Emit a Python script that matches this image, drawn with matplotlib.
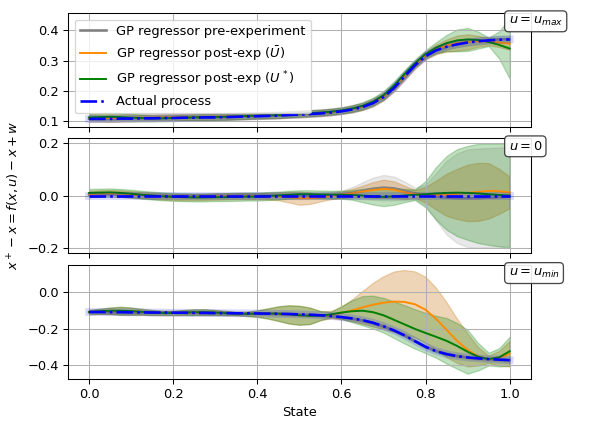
import numpy as np
import matplotlib
matplotlib.use('Agg')
import matplotlib.pyplot as plt

# state grid (step 0.025)
state = np.linspace(0, 1, 41)

# ---------- u = u_max ----------
top_actual = [.108, .108, .108, .109, .109, .110, .110, .111, .111, .112, .112, .113, .113, .114,
              .115, .116, .117, .118, .119, .121, .122, .124, .126, .129, .133, .139, .147, .160,
              .180, .210, .248, .285, .315, .334, .346, .354, .360, .364, .367, .369, .370]
top_pre = [.109, .109, .109, .109, .110, .110, .111, .111, .112, .112, .113, .113, .114, .114,
           .115, .116, .117, .118, .119, .121, .123, .125, .127, .130, .134, .140, .148, .161,
           .181, .211, .248, .284, .314, .333, .346, .355, .361, .365, .368, .370, .371]
top_pre_sd = [.008] * 33 + [.009, .010, .010, .011, .011, .011, .012, .012]
top_ub = [.111, .111, .111, .111, .112, .112, .112, .113, .113, .114, .114, .115, .115, .116,
          .117, .118, .119, .120, .121, .123, .124, .126, .128, .131, .135, .141, .149, .162,
          .182, .212, .250, .287, .318, .337, .350, .358, .362, .364, .363, .360, .356]
top_ub_sd = [.012, .012, .013, .012, .012, .011, .011, .011, .011, .011, .011, .011, .011, .011,
             .011, .011, .011, .011, .011, .011, .011, .011, .011, .011, .011, .012, .012, .013,
             .013, .013, .013, .012, .013, .016, .020, .025, .025, .018, .012, .015, .020]
top_us = [.113, .114, .115, .114, .112, .111, .110, .110, .111, .112, .113, .114, .114, .115,
          .116, .118, .119, .120, .121, .123, .125, .127, .129, .132, .136, .142, .151, .165,
          .186, .218, .256, .292, .322, .343, .358, .367, .370, .368, .362, .352, .340]
top_us_sd = [.012, .013, .014, .013, .012, .011, .010, .010, .010, .010, .010, .010, .010, .010,
             .010, .010, .010, .010, .010, .010, .010, .010, .010, .010, .010, .011, .012, .013,
             .014, .014, .013, .012, .013, .018, .027, .036, .038, .028, .014, .045, .100]

# ---------- u = 0 ----------
mid_actual = [0.0] * 41
mid_pre = [.004, .005, .005, .004, .003, .001, .000, -.001, -.002, -.002, -.002, -.002, -.001, -.001,
           .000, .000, .000, .000, .000, -.001, -.002, -.001, .000, .002, .004, .010, .018, .026,
           .030, .027, .018, .008, .002, -.004, -.008, -.010, -.010, -.010, -.008, -.006, -.004]
mid_pre_sd = [.010, .010, .010, .010, .010, .010, .010, .010, .010, .010, .010, .010, .010, .010,
              .010, .010, .010, .010, .011, .012, .012, .012, .012, .013, .015, .022, .032, .042,
              .048, .045, .035, .022, .040, .090, .140, .170, .185, .188, .188, .188, .188]
mid_ub = [.006, .008, .009, .008, .005, .002, -.001, -.003, -.005, -.006, -.006, -.005, -.004, -.003,
          -.002, -.002, -.002, -.002, -.003, -.006, -.010, -.010, -.007, -.002, .003, .009, .015, .021,
          .025, .022, .012, .006, .003, .002, .003, .006, .010, .014, .018, .016, .012]
mid_ub_sd = [.012, .012, .012, .012, .012, .012, .012, .012, .012, .012, .012, .012, .012, .012,
             .012, .012, .012, .013, .015, .020, .025, .022, .015, .012, .012, .016, .022, .030,
             .035, .032, .025, .015, .030, .055, .080, .095, .107, .110, .105, .085, .060]
mid_us = [.010, .011, .012, .010, .007, .003, .000, -.003, -.005, -.006, -.007, -.007, -.006, -.006,
          -.005, -.004, -.004, -.002, .000, .003, .005, .005, .004, .003, .003, .002, .000, -.003,
          -.005, -.003, .000, .003, .005, .008, .010, .011, .010, .008, .005, .002, .000]
mid_us_sd = [.015, .015, .015, .015, .015, .015, .015, .015, .015, .015, .015, .015, .015, .015,
             .015, .015, .015, .015, .015, .015, .015, .015, .015, .015, .015, .018, .025, .031,
             .035, .032, .025, .020, .050, .100, .140, .165, .178, .188, .192, .195, .198]

# ---------- u = u_min ----------
bot_actual = [-.107, -.107, -.108, -.108, -.109, -.109, -.110, -.110, -.111, -.111, -.112, -.112,
              -.113, -.113, -.114, -.114, -.115, -.116, -.117, -.118, -.120, -.122, -.125, -.129,
              -.135, -.142, -.152, -.166, -.185, -.208, -.235, -.267, -.298, -.322, -.338, -.349,
              -.356, -.361, -.365, -.368, -.371]
bot_pre = [-.108, -.108, -.108, -.109, -.109, -.110, -.110, -.111, -.111, -.112, -.112, -.113,
           -.113, -.114, -.114, -.115, -.115, -.116, -.117, -.119, -.121, -.123, -.126, -.130,
           -.136, -.143, -.153, -.167, -.186, -.209, -.236, -.267, -.297, -.321, -.337, -.348,
           -.356, -.361, -.365, -.368, -.370]
bot_pre_sd = [.008] * 41
bot_ub = [-.107, -.104, -.101, -.101, -.103, -.106, -.110, -.112, -.112, -.110, -.108, -.108,
          -.110, -.113, -.116, -.117, -.116, -.115, -.116, -.120, -.125, -.128, -.127, -.122,
          -.112, -.098, -.082, -.067, -.056, -.050, -.052, -.065, -.095, -.145, -.205, -.265,
          -.315, -.350, -.366, -.360, -.335]
bot_ub_sd = [.012, .014, .018, .022, .020, .016, .014, .012, .012, .014, .016, .016,
             .014, .012, .010, .012, .018, .028, .040, .050, .052, .045, .025, .020,
             .035, .060, .090, .120, .145, .165, .175, .180, .180, .170, .150, .120,
             .090, .050, .020, .040, .070]
bot_us = [-.107, -.103, -.100, -.100, -.102, -.106, -.110, -.112, -.112, -.110, -.108, -.108,
          -.110, -.113, -.116, -.117, -.116, -.115, -.116, -.120, -.125, -.128, -.127, -.120,
          -.110, -.103, -.100, -.108, -.125, -.150, -.175, -.200, -.222, -.243, -.265, -.293,
          -.325, -.352, -.365, -.355, -.322]
bot_us_sd = [.012, .014, .018, .022, .020, .016, .014, .012, .012, .014, .016, .016,
             .014, .012, .010, .012, .018, .028, .040, .050, .052, .045, .025, .015,
             .035, .060, .080, .090, .095, .100, .105, .108, .110, .115, .125, .125,
             .120, .075, .035, .050, .080]

panels = [
    (r'$u=u_{max}$', top_actual, top_pre, top_pre_sd, top_ub, top_ub_sd, top_us, top_us_sd),
    (r'$u=0$', mid_actual, mid_pre, mid_pre_sd, mid_ub, mid_ub_sd, mid_us, mid_us_sd),
    (r'$u=u_{min}$', bot_actual, bot_pre, bot_pre_sd, bot_ub, bot_ub_sd, bot_us, bot_us_sd),
]

DPI = 93.28
fig = plt.figure(figsize=(597 / DPI, 421 / DPI), dpi=DPI)
boxes = [[0.114, 0.698, 0.775, 0.271],
         [0.114, 0.399, 0.775, 0.273],
         [0.114, 0.100, 0.775, 0.271]]
axes = []
for i, b in enumerate(boxes):
    if i == 0:
        ax = fig.add_axes(b)
    else:
        ax = fig.add_axes(b, sharex=axes[0])
    axes.append(ax)

ub_fill = (0.80, 0.50, 0.15)
for ax, (lab, act, pre, pre_sd, ub, ub_sd, us, us_sd) in zip(axes, panels):
    act, pre, pre_sd = np.array(act), np.array(pre), np.array(pre_sd)
    ub, ub_sd, us, us_sd = np.array(ub), np.array(ub_sd), np.array(us), np.array(us_sd)
    ax.fill_between(state, pre - pre_sd, pre + pre_sd, color='gray', alpha=0.18)
    ax.fill_between(state, ub - ub_sd, ub + ub_sd, color=ub_fill, alpha=0.33)
    ax.fill_between(state, us - us_sd, us + us_sd, color='green', alpha=0.25)
    ax.plot(state, pre, color='gray', lw=2, label='GP regressor pre-experiment')
    ax.plot(state, ub, color='darkorange', lw=1.5, label=r'GP regressor post-exp ($\bar{U}$)')
    ax.plot(state, us, color='green', lw=1.5, label=r'GP regressor post-exp ($U^*$)')
    ax.plot(state, act, color='blue', lw=6, alpha=0.15)
    ax.plot(state, act, '-.', color='blue', lw=2, label='Actual process')
    ax.grid(True)
    ax.text(0.952, 0.985, lab, transform=ax.transAxes, ha='left', va='top', fontsize=10,
            bbox=dict(boxstyle='round', facecolor='white', edgecolor='0.2', alpha=0.9))

axes[0].set_yticks([0.1, 0.2, 0.3, 0.4])
axes[1].set_yticks([-0.2, 0.0, 0.2])
axes[2].set_yticks([-0.4, -0.2, 0.0])
for ax in axes[:2]:
    ax.tick_params(labelbottom=False)

axes[0].legend(loc='upper left')
axes[1].set_ylabel(r'$x^+ - x = f(x,u) - x + w$')
axes[2].set_xlabel('State')

fig.savefig('out.png', dpi=DPI)
